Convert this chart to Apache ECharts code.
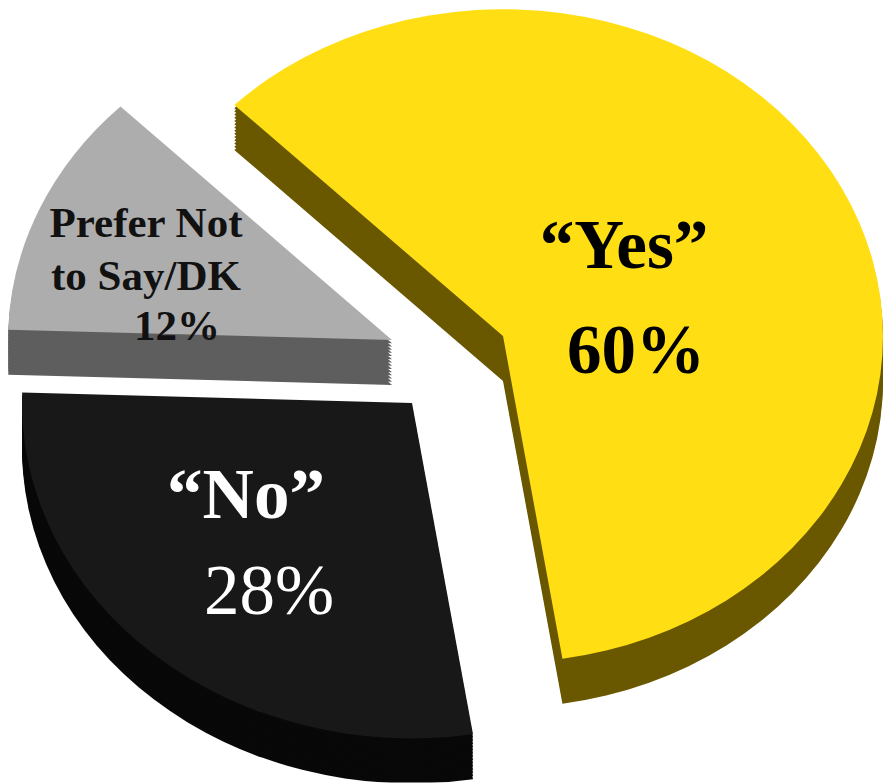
<!DOCTYPE html>
<html>
<head>
<meta charset="utf-8">
<script src="https://cdn.jsdelivr.net/npm/echarts@6/dist/echarts.min.js"></script>
<style>
html,body{margin:0;padding:0;background:#fff;overflow:hidden;width:884px;height:783px;}
#chart{position:absolute;left:0;top:0;width:884px;transform-origin:0 0;}
</style>
</head>
<body>
<div id="chart"></div>
<script>
// ---- data ----
const categories = ['“Yes”', '“No”', 'Prefer Not to Say/DK'];
const values = [60, 28, 12];
const labelLines = [['“Yes”'], ['“No”'], ['Prefer Not', 'to Say/DK']];

// ---- style / layout ----
const topColors  = ['#FFDF14', '#181818', '#ADADAD'];
const sideColors = ['#6A5800', '#080808', '#5E5E5E'];
const K = 0.86;                 // vertical squash for the tilted view
const H = 783 / K;
const DEPTH = 45 / K;           // extrusion depth in chart units
const STEPS = 14;
const centersScreen = [[503, 336], [412, 403], [392, 340]];
const radii = [380, 390, 384];

const el = document.getElementById('chart');
el.style.height = H + 'px';
el.style.transform = 'scaleY(' + K + ')';

const chart = echarts.init(el, null, { renderer: 'svg', width: 884, height: H });

function pieFor(idx, offsetY, color, z) {
  return {
    type: 'pie',
    silent: true,
    animation: false,
    startAngle: 135,
    clockwise: true,
    radius: radii[idx],
    center: [centersScreen[idx][0], centersScreen[idx][1] / K + offsetY],
    label: { show: false },
    labelLine: { show: false },
    emphasis: { disabled: true },
    z: z,
    data: categories.map((name, i) => ({
      name: name,
      value: values[i],
      itemStyle: { color: i === idx ? color : 'rgba(0,0,0,0)', borderWidth: 0 }
    }))
  };
}

const series = [];
for (let idx = 0; idx < categories.length; idx++) {
  for (let s = STEPS; s >= 1; s--) {
    series.push(pieFor(idx, DEPTH * s / STEPS, sideColors[idx], 1));
  }
}
for (let idx = 0; idx < categories.length; idx++) {
  series.push(pieFor(idx, 0, topColors[idx], 2));
}

function txt(text, x, ySc, size, weight, fill) {
  return {
    type: 'text',
    x: x,
    y: ySc / K,
    scaleY: 1 / K,
    z: 100,
    silent: true,
    style: {
      text: text,
      font: weight + ' ' + size + 'px "Liberation Serif", "DejaVu Serif", serif',
      fill: fill,
      textAlign: 'center',
      textVerticalAlign: 'middle'
    }
  };
}

const graphics = [
  txt(labelLines[0][0], 624, 268 - 0.33 * 69, 69, 'bold', '#000'),
  txt(values[0] + '%', 636, 373 - 0.33 * 69, 69, 'bold', '#000'),
  txt(labelLines[1][0], 246, 517 - 0.33 * 71, 71, 'bold', '#fff'),
  txt(values[1] + '%', 269, 613 - 0.33 * 71, 71, 'normal', '#fff'),
  txt(labelLines[2][0], 146, 237 - 0.33 * 43, 43, 'bold', '#111'),
  txt(labelLines[2][1], 146, 290 - 0.33 * 43, 43, 'bold', '#111'),
  txt(values[2] + '%', 177, 340 - 0.33 * 43, 43, 'bold', '#111')
];

chart.setOption({
  backgroundColor: '#ffffff',
  animation: false,
  series: series,
  graphic: graphics
});
</script>
</body>
</html>
